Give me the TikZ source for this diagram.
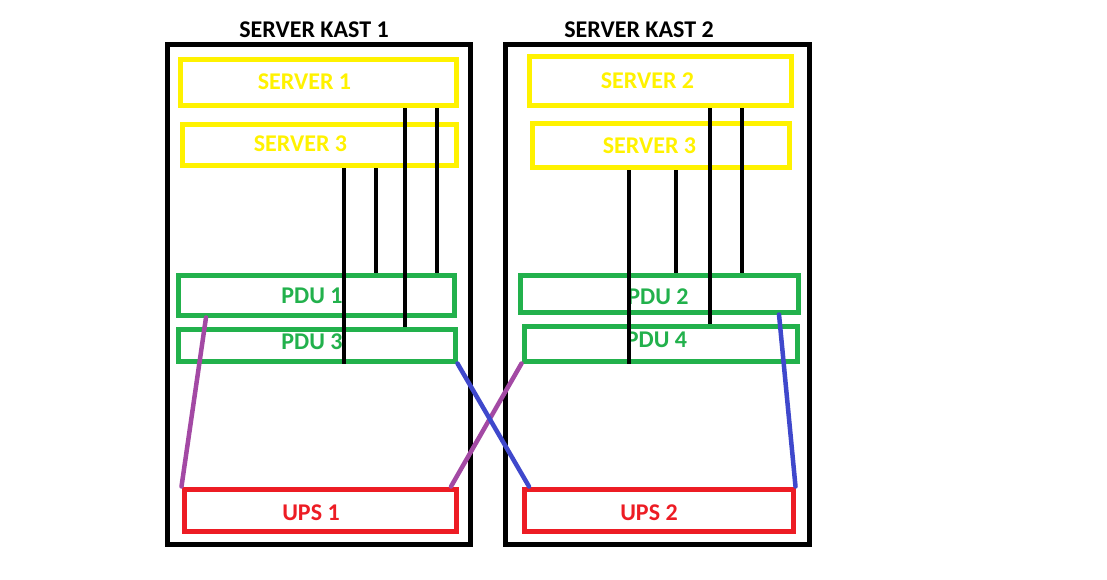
\documentclass[tikz,border=0pt]{standalone}
\usepackage{fontspec}
\setmainfont{Carlito}
\usetikzlibrary{positioning}
\definecolor{geel}{HTML}{FFF200}
\definecolor{groen}{HTML}{22B14C}
\definecolor{rood}{HTML}{ED1C24}
\definecolor{paars}{HTML}{A349A4}
\definecolor{blauw}{HTML}{3F48CC}
\tikzset{
  kast/.style={draw=black,line width=5pt,inner sep=0pt},
  srv/.style={draw=geel,line width=5pt,inner sep=0pt},
  pdu/.style={draw=groen,line width=5pt,inner sep=0pt},
  ups/.style={draw=rood,line width=5pt,inner sep=0pt},
  lbl/.style={inner sep=0pt,font=\bfseries\fontsize{24}{26}\selectfont},
  kabel/.style={line width=4.5pt},
  snoer/.style={line width=4.5pt,line cap=round}
}

\begin{document}
\begin{tikzpicture}[x=1pt,y=-1pt]
\useasboundingbox[fill=white] (0,0) rectangle (1107,580);
% kasten
\node[kast,minimum width=303,minimum height=499] (k1) at (318.5,294.5) {};
\node[kast,minimum width=304,minimum height=499] (k2) at (657,294.5) {};
\node[lbl] (k1t) at (314,30) {SERVER KAST 1};
\node[lbl] (k2t) at (639,30) {SERVER KAST 2};
% servers
\node[srv,minimum width=276,minimum height=46] (s1) at (318,83) {};
\node[srv,minimum width=274,minimum height=41] (s3a) at (319,145.5) {};
\node[srv,minimum width=262,minimum height=49] (s2) at (660,81.5) {};
\node[srv,minimum width=257,minimum height=44] (s3b) at (660.5,146) {};
\node[lbl,text=geel] (s1t) at (304.5,82) {SERVER 1};
\node[lbl,text=geel] (s3at) at (300.5,144) {SERVER 3};
\node[lbl,text=geel] (s2t) at (647.5,81) {SERVER 2};
\node[lbl,text=geel] (s3bt) at (649.5,146) {SERVER 3};
% pdu's
\node[pdu,minimum width=276,minimum height=40] (p1) at (316,295) {};
\node[pdu,minimum width=277,minimum height=32] (p3) at (316.5,345) {};
\node[pdu,minimum width=278,minimum height=37] (p2) at (659,293.5) {};
\node[pdu,minimum width=273,minimum height=35] (p4) at (660.5,343.5) {};
\node[lbl,text=groen] (p1t) at (312,296) {PDU 1};
\node[lbl,text=groen] (p3t) at (312,342) {PDU 3};
\node[lbl,text=groen] (p2t) at (658,296.5) {PDU 2};
\node[lbl,text=groen] (p4t) at (656.5,340) {PDU 4};
% ups'en
\node[ups,minimum width=272,minimum height=42] (u1) at (320,510) {};
\node[ups,minimum width=269,minimum height=42] (u2) at (658.5,510) {};
\node[lbl,text=rood] (u1t) at (311,513) {UPS 1};
\node[lbl,text=rood] (u2t) at (649,513) {UPS 2};
% voedingskabels
\foreach \from/\to/\xx in {s1/p3/405,s1/p1/437,s3a/p1/376,s3b/p2/676,s2/p4/710,s2/p2/742}
  \draw[kabel] (\from.south -| \xx,0) -- (\to.north -| \xx,0);
\draw[kabel] (s3a.south -| 344,0) -- (p3.south -| 344,0);
\draw[kabel] (s3b.south -| 629,0) -- (p4.south -| 629,0);
% ups-kabels
\draw[snoer,paars] (p1.south -| 206,0) -- (u1.north west);
\draw[snoer,paars] (p4.south west) -- (u1.north -| 451,0);
\draw[snoer,blauw] (p3.south east) -- (u2.north -| 529,0);
\draw[snoer,blauw] (p2.south -| 779,0) -- (u2.north east);
\end{tikzpicture}
\end{document}
